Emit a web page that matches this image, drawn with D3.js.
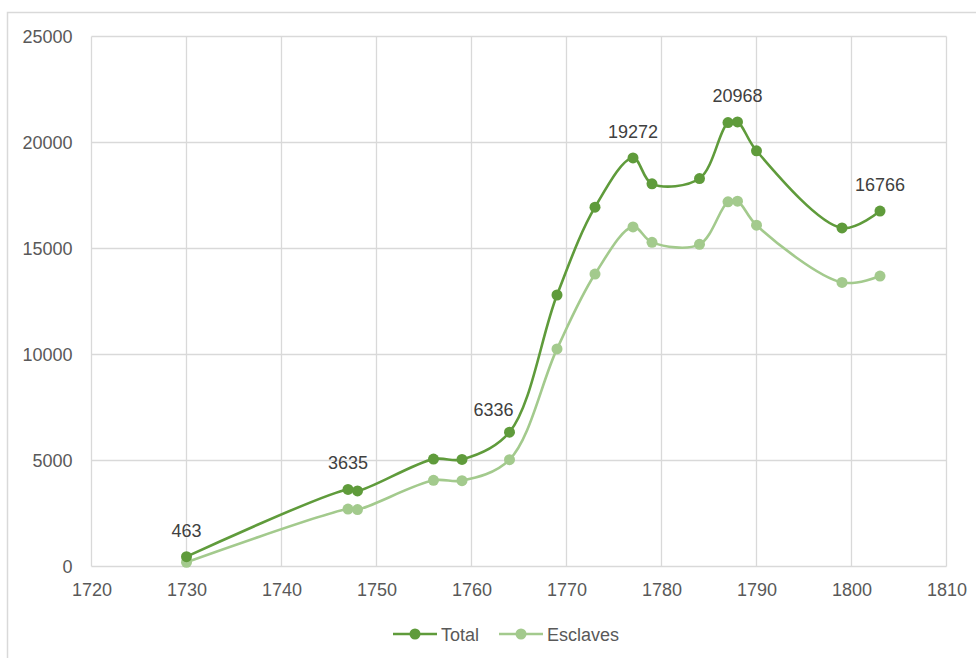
<!DOCTYPE html>
<meta charset="UTF-8">
<html>
<head>
<script src="https://d3js.org/d3.v7.min.js"></script>
<style>
  body { margin: 0; background: #fff; }
  text { font-family: "Liberation Sans", Arial, sans-serif; }
</style>
</head>
<body>
<div id="chart"></div>
<script>
// data
var years    = [1730, 1747, 1748, 1756, 1759, 1764, 1769, 1773, 1777, 1779, 1784, 1787, 1788, 1790, 1799, 1803];
var total    = [463, 3635, 3565, 5065, 5050, 6336, 12806, 16950, 19272, 18050, 18300, 20940, 20968, 19610, 15970, 16766];
var esclaves = [200, 2710, 2685, 4065, 4050, 5040, 10264, 13795, 16020, 15290, 15195, 17200, 17230, 16100, 13400, 13700];
var labelled = [1730, 1747, 1764, 1777, 1788, 1803];
var xTicks = [1720, 1730, 1740, 1750, 1760, 1770, 1780, 1790, 1800, 1810];
var yTicks = [0, 5000, 10000, 15000, 20000, 25000];

var series = [
  { name: 'Total', values: total, color: '#5f9b3b' },
  { name: 'Esclaves', values: esclaves, color: '#a3ca8d' }
];

var W = 976, H = 658;
var svg = d3.select('#chart').append('svg').attr('width', W).attr('height', H);

// chart area outline
svg.append('rect')
  .attr('x', 7.5).attr('y', 12.5).attr('width', W + 10).attr('height', H + 10)
  .attr('fill', 'none').attr('stroke', '#d9d9d9').attr('stroke-width', 1.5);

var x = d3.scaleLinear().domain([1720, 1810]).range([91.5, 946.5]);
var y = d3.scaleLinear().domain([0, 25000]).range([566.5, 36.5]);

// grid
svg.append('g').selectAll('line').data(yTicks).enter().append('line')
  .attr('x1', x(1720)).attr('x2', x(1810))
  .attr('y1', function (d) { return y(d); }).attr('y2', function (d) { return y(d); })
  .attr('stroke', '#d9d9d9').attr('stroke-width', 1.3);
svg.append('g').selectAll('line').data(xTicks).enter().append('line')
  .attr('x1', function (d) { return x(d); }).attr('x2', function (d) { return x(d); })
  .attr('y1', y(0)).attr('y2', y(25000))
  .attr('stroke', '#d9d9d9').attr('stroke-width', 1.3);

// axes
var yAxis = d3.axisLeft(y).tickValues(yTicks).tickSize(0).tickPadding(19).tickFormat(d3.format('d'));
var xAxis = d3.axisBottom(x).tickValues(xTicks).tickSize(0).tickPadding(17).tickFormat(d3.format('d'));
var gy = svg.append('g').attr('transform', 'translate(' + x(1720) + ',0)').call(yAxis);
var gx = svg.append('g').attr('transform', 'translate(0,' + y(0) + ')').call(xAxis);
[gx, gy].forEach(function (g) {
  g.select('.domain').remove();
  g.selectAll('text').attr('font-size', 18).attr('fill', '#595959')
    .attr('font-family', '"Liberation Sans", Arial, sans-serif');
});

// lines and markers
var line = d3.line()
  .x(function (d) { return x(d[0]); })
  .y(function (d) { return y(d[1]); })
  .curve(d3.curveCatmullRom.alpha(0.5));

series.slice().reverse().forEach(function (s) {
  var pts = years.map(function (yr, i) { return [yr, s.values[i]]; });
  svg.append('path').datum(pts)
    .attr('d', line).attr('fill', 'none')
    .attr('stroke', s.color).attr('stroke-width', 2.6);
  svg.append('g').selectAll('circle').data(pts).enter().append('circle')
    .attr('cx', function (d) { return x(d[0]); })
    .attr('cy', function (d) { return y(d[1]); })
    .attr('r', 5.5).attr('fill', s.color);
});

// data labels on Total (the 1764 one sits a bit to the left in the original)
var lab = years.map(function (yr, i) { return [yr, total[i]]; })
  .filter(function (d) { return labelled.indexOf(d[0]) >= 0; });
svg.append('g').selectAll('text').data(lab).enter().append('text')
  .attr('x', function (d) { return x(d[0]) + (d[0] == 1764 ? -16 : 0); })
  .attr('y', function (d) { return y(d[1]) - (d[0] == 1764 ? 16 : 20); })
  .attr('text-anchor', 'middle').attr('font-size', 18).attr('fill', '#404040')
  .text(function (d) { return d[1]; });

// legend
var legend = svg.append('g').attr('transform', 'translate(393,634)');
series.forEach(function (s, i) {
  var g = legend.append('g').attr('transform', 'translate(' + (i * 106) + ',0)');
  g.append('line').attr('x1', 0).attr('x2', 44).attr('y1', 0).attr('y2', 0)
    .attr('stroke', s.color).attr('stroke-width', 2.6);
  g.append('circle').attr('cx', 22).attr('cy', 0).attr('r', 5.5).attr('fill', s.color);
  g.append('text').attr('x', 48).attr('y', 6.5).attr('font-size', 18).attr('fill', '#595959').text(s.name);
});
</script>
</body>
</html>
